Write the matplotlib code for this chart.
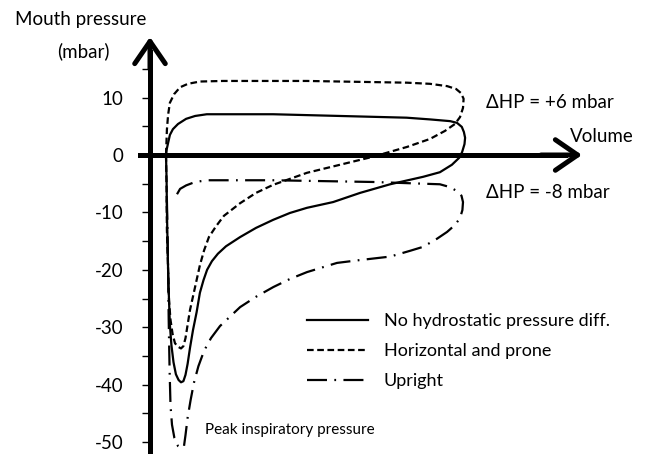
import numpy as np
import matplotlib
matplotlib.use('Agg')
import matplotlib.pyplot as plt
from matplotlib.ticker import FixedLocator

plt.rcParams['font.family'] = ['Lato', 'DejaVu Sans']

no_hp_vol = [0, 0.2, 0.3, 0.5, 0.7, 1.0, 1.3, 1.8, 2.5, 3.3, 4.2, 5.0, 5.8, 6.5,
             7.2, 8.0, 9.0, 10.2, 11.3, 12.5, 13.7, 15.3, 17.3, 20.0, 24.7, 30.0,
             35.7, 41.3, 47.0, 55.7, 64.7, 74.7, 85.7, 91.3, 95.3, 97.7, 98.7,
             99.5, 99.7, 99.3, 98.6, 97.0, 94.7, 88.0, 80.2, 58.0, 35.7, 18.0,
             13.6, 9.7, 6.7, 4.0, 2.3, 1.3, 0.7, 0.2, 0]
no_hp_p = [0, -4.4, -9.6, -14.8, -20.0, -25.3, -29.6, -33.1, -36.1, -38.2, -39.2,
           -39.6, -39.4, -38.3, -36.4, -33.6, -30.5, -27.4, -24.0, -21.8, -20.0,
           -18.5, -17.2, -15.9, -14.3, -12.7, -11.3, -10.1, -9.2, -8.2, -6.6,
           -5.1, -3.8, -3.0, -1.7, -0.5, 0.5, 1.9, 3.0, 4.0, 4.9, 5.6, 5.9, 6.2,
           6.5, 6.8, 7.1, 7.1, 7.1, 6.8, 6.3, 5.4, 4.5, 3.5, 2.1, 0.9, 0]

prone_vol = [0, 0.2, 0.3, 0.7, 1.0, 1.5, 2.2, 3.0, 4.0, 5.0, 5.8, 6.5, 7.2, 8.0,
             9.1, 10.2, 11.3, 12.7, 14.3, 16.7, 19.3, 24.7, 30.0, 35.7, 47.0,
             58.0, 69.0, 80.3, 88.0, 93.0, 96.3, 98.0, 99.0, 99.2, 98.3, 96.7,
             93.7, 88.0, 80.3, 47.0, 19.0, 11.3, 7.3, 4.7, 2.7, 1.3, 0.7, 0.3, 0]
prone_p = [0, -6.1, -13.1, -20.0, -25.3, -28.7, -31.2, -32.8, -33.4, -33.7, -33.3,
           -31.9, -29.6, -27.0, -24.4, -21.8, -19.2, -16.6, -14.3, -12.4, -10.6,
           -8.4, -6.6, -5.2, -3.1, -1.7, -0.3, 1.4, 2.8, 4.2, 5.4, 6.6, 8.2, 9.8,
           10.8, 11.5, 12.0, 12.4, 12.6, 12.9, 12.9, 12.8, 12.4, 11.8, 10.6, 9.1,
           7.0, 4.4, 0]

upright_vol = [0.3, 0.5, 0.7, 0.9, 1.2, 1.5, 2.0, 2.8, 4.0, 5.2, 6.0, 6.5, 7.2,
               8.2, 9.3, 10.8, 12.7, 15.0, 18.0, 24.7, 30.0, 35.8, 41.3, 47.0,
               57.0, 64.7, 74.7, 81.3, 85.7, 90.3, 93.7, 96.3, 98.0, 98.8, 99.0,
               98.5, 97.0, 94.7, 91.3, 69.0, 35.7, 13.7, 9.7, 6.7, 4.7, 3.6]
upright_p = [-7.8, -13.1, -20.0, -28.7, -37.5, -43.6, -47.0, -49.3, -50.7, -51.1,
             -50.7, -48.8, -45.8, -42.7, -39.7, -36.8, -34.1, -31.9, -29.8, -26.5,
             -24.7, -23.0, -21.6, -20.4, -18.8, -18.3, -17.7, -16.7, -16.0, -14.6,
             -13.4, -12.2, -11.0, -9.6, -8.2, -7.1, -6.3, -5.6, -5.1, -4.7, -4.4,
             -4.4, -4.7, -5.3, -5.9, -6.9]

labels = ['No hydrostatic pressure diff.', 'Horizontal and prone', 'Upright']
y_major = [10, 0, -10, -20, -30, -40, -50]
y_minor = [15, 5, -5, -15, -25, -35, -45]

W, H = 645, 454
fig = plt.figure(figsize=(W / 100, H / 100), dpi=100)
ax = fig.add_axes([0, 0, 1, 1])

# volume 0 sits at x=166 px (3 px per unit), pressure 0 at y=155 px (5.74 px per mbar)
ax.set_xlim(-166 / 3, (W - 166) / 3)
ax.set_ylim((155 - H) / 5.74, 155 / 5.74)
y_axis_v = (150 - 166) / 3

def fx(px):
    return px / W

def fy(py):
    return 1 - py / H

ax.plot(no_hp_vol, no_hp_p, color='black', lw=1.6, solid_joinstyle='round',
        label=labels[0])
ax.plot(prone_vol, prone_p, color='black', lw=1.6, linestyle=(0, (3.0, 1.6)),
        label=labels[1])
ax.plot(upright_vol, upright_p, color='black', lw=1.6,
        linestyle=(0, (9, 3.3, 0.8, 3.3)), label=labels[2])

# axes with arrows
for s in ['top', 'right']:
    ax.spines[s].set_visible(False)
ax.spines['left'].set_position(('data', y_axis_v))
ax.spines['bottom'].set_position(('data', 0))
ax.spines['left'].set_linewidth(3.6)
ax.spines['bottom'].set_linewidth(3.6)
ax.spines['left'].set_bounds(ax.get_ylim()[0], 18)
ax.spines['bottom'].set_bounds((140 - 166) / 3, 133)

arrow = dict(arrowstyle='->, head_length=0.8, head_width=0.55', lw=3.6,
             color='black', shrinkA=0, shrinkB=0, mutation_scale=20)
ax.annotate('', xy=(y_axis_v, (155 - 37) / 5.74), xytext=(y_axis_v, 15),
            arrowprops=arrow)
ax.annotate('', xy=((582 - 166) / 3, 0), xytext=(125, 0), arrowprops=arrow)

ax.set_xticks([])
ax.yaxis.set_major_locator(FixedLocator(y_major))
ax.yaxis.set_minor_locator(FixedLocator(y_minor))
ax.set_yticklabels([str(v) for v in y_major])
ax.tick_params(axis='y', which='both', direction='out', length=6, width=1,
               labelsize=13.5)
ax.tick_params(axis='y', which='major', pad=13)

# text
fs = 13.5
fig.text(fx(81), fy(20), 'Mouth pressure', ha='center', va='center', fontsize=fs)
fig.text(fx(83), fy(51), '(mbar)', ha='center', va='center', fontsize=fs)
fig.text(fx(570), fy(137), 'Volume', ha='left', va='center', fontsize=fs)
fig.text(fx(486), fy(102), '\u0394HP = +6 mbar', ha='left', va='center', fontsize=fs)
fig.text(fx(486), fy(193), '\u0394HP = -8 mbar', ha='left', va='center', fontsize=fs)
fig.text(fx(205), fy(430), 'Peak inspiratory pressure', ha='left', va='center',
         fontsize=11)

ax.legend(loc='upper left', bbox_to_anchor=(fx(307), fy(313)),
          bbox_transform=fig.transFigure, frameon=False, fontsize=13,
          handlelength=3.4, handletextpad=0.85, labelspacing=0.78,
          borderpad=0, borderaxespad=0)

fig.savefig('out.png', dpi=100)
